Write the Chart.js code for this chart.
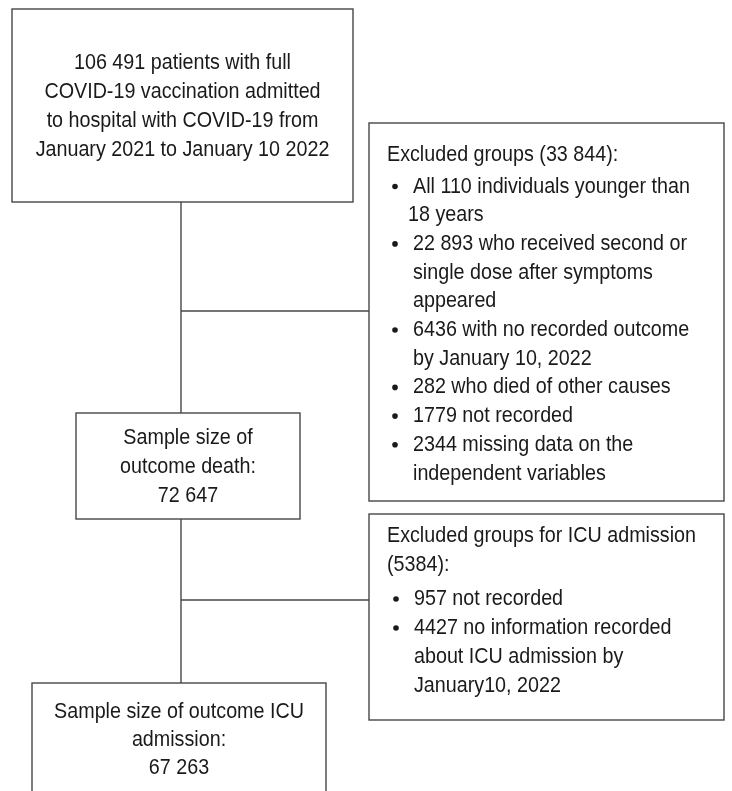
<!DOCTYPE html>
<html>
<head>
<meta charset="utf-8">
<script src="https://cdn.jsdelivr.net/npm/chart.js@4.4.1/dist/chart.umd.min.js"></script>
<style>
  html, body { margin: 0; padding: 0; background: #ffffff; }
  #wrap { width: 732px; height: 791px; }
</style>
</head>
<body>
<div id="wrap"><canvas id="c" width="732" height="791"></canvas></div>
<script>
// ---- data (counts and texts) ----
const cohortCounts = [106491, 72647, 67263];
const deathExclusionTotal = 33844;
const deathExclusionCounts = [110, 22893, 6436, 282, 1779, 2344];
const icuExclusionTotal = 5384;
const icuExclusionCounts = [957, 4427];

const fmt = n => String(n).replace(/\B(?=(\d{3})+(?!\d))/g, ' ');

const topBoxLines = [
  fmt(cohortCounts[0]) + ' patients with full',
  'COVID-19 vaccination admitted',
  'to hospital with COVID-19 from',
  'January 2021 to January 10 2022'
];
const deathBoxLines = ['Sample size of', 'outcome death:', fmt(cohortCounts[1])];
const icuBoxLines = ['Sample size of outcome ICU', 'admission:', fmt(cohortCounts[2])];

const excl1Heading = ['Excluded groups (' + fmt(deathExclusionTotal) + '):'];
const excl1Bullets = [
  ['All ' + deathExclusionCounts[0] + ' individuals younger than', '18 years'],
  [fmt(deathExclusionCounts[1]) + ' who received second or', 'single dose after symptoms', 'appeared'],
  [deathExclusionCounts[2] + ' with no recorded outcome', 'by January 10, 2022'],
  [deathExclusionCounts[3] + ' who died of other causes'],
  [deathExclusionCounts[4] + ' not recorded'],
  [deathExclusionCounts[5] + ' missing data on the', 'independent variables']
];
const excl2Heading = ['Excluded groups for ICU admission', '(' + icuExclusionTotal + '):'];
const excl2Bullets = [
  [icuExclusionCounts[0] + ' not recorded'],
  [icuExclusionCounts[1] + ' no information recorded', 'about ICU admission by', 'January10, 2022']
];

// ---- layout (data units = page pixels on the hidden linear scales) ----
const boxes = [
  { x0: 12, y0: 9, x1: 353, y1: 202, kind: 'center', lines: topBoxLines, y: 63, lh: 29 },
  { x0: 76, y0: 413, x1: 300, y1: 519, kind: 'center', lines: deathBoxLines, y: 438, lh: 29 },
  { x0: 32, y0: 683, x1: 326, y1: 800, kind: 'center', lines: icuBoxLines, y: 712, lh: 28 },
  { x0: 369, y0: 123, x1: 724, y1: 501, kind: 'list', heading: excl1Heading, bullets: excl1Bullets,
    y: 155, lh: 28.7, gap: 31.5, hx: 387, bx: 395, tx: 413, contX: [408] },
  { x0: 369, y0: 514, x1: 724, y1: 720, kind: 'list', heading: excl2Heading, bullets: excl2Bullets,
    y: 536, lh: 29, gap: 34, hx: 387, bx: 396, tx: 414, contX: [] }
];

const connectors = [
  [{x: 181, y: 202}, {x: 181, y: 413}],
  [{x: 181, y: 519}, {x: 181, y: 683}],
  [{x: 181, y: 311}, {x: 369, y: 311}],
  [{x: 181, y: 600}, {x: 369, y: 600}]
];

const FONT = '22px "Liberation Sans", Arial, sans-serif';
const REF_TEXT = 'Excluded groups for ICU admission';
const REF_WIDTH = 309; // width of REF_TEXT in the condensed face of the reference
const TEXT_COLOR = '#1a1a1a';
const LINE_COLOR = '#474747';

const flowPlugin = {
  id: 'flow',
  afterDatasetsDraw(chart) {
    const ctx = chart.ctx;
    const xs = chart.scales.x, ys = chart.scales.y;
    const px = v => xs.getPixelForValue(v);
    const py = v => ys.getPixelForValue(v);
    ctx.save();
    ctx.lineWidth = 1.4;
    ctx.strokeStyle = LINE_COLOR;
    boxes.forEach(b => {
      ctx.strokeRect(px(b.x0), py(b.y0), px(b.x1) - px(b.x0), py(b.y1) - py(b.y0));
    });
    ctx.fillStyle = TEXT_COLOR;
    ctx.font = FONT;
    ctx.textBaseline = 'middle';
    const squeeze = REF_WIDTH / ctx.measureText(REF_TEXT).width;
    const put = (t, x, y) => {
      ctx.save();
      ctx.translate(x, y);
      ctx.scale(squeeze, 1);
      ctx.fillText(t, 0, 0);
      ctx.restore();
    };
    boxes.forEach(b => {
      if (b.kind === 'center') {
        ctx.textAlign = 'center';
        const cx = (b.x0 + b.x1) / 2;
        b.lines.forEach((t, i) => put(t, px(cx), py(b.y + i * b.lh)));
      } else {
        ctx.textAlign = 'left';
        let y = b.y;
        b.heading.forEach((t, i) => {
          if (i > 0) y += b.lh;
          put(t, px(b.hx), py(y));
        });
        y += b.gap;
        b.bullets.forEach((lines, bi) => {
          if (bi > 0) y += b.lh;
          ctx.beginPath();
          ctx.arc(px(b.bx), py(y), 2.8, 0, Math.PI * 2);
          ctx.fill();
          lines.forEach((t, li) => {
            if (li > 0) y += b.lh;
            const tx = (li > 0 && bi === 0 && b.contX.length) ? b.contX[0] : b.tx;
            put(t, px(tx), py(y));
          });
        });
      }
    });
    ctx.restore();
  }
};

new Chart(document.getElementById('c'), {
  type: 'scatter',
  data: {
    datasets: connectors.map(seg => ({
      data: seg,
      showLine: true,
      borderColor: LINE_COLOR,
      borderWidth: 1.4,
      pointRadius: 0,
      fill: false
    }))
  },
  options: {
    responsive: false,
    animation: false,
    devicePixelRatio: 1,
    layout: { padding: 0 },
    plugins: { legend: { display: false }, tooltip: { enabled: false } },
    scales: {
      x: { type: 'linear', min: 0, max: 732, display: false },
      y: { type: 'linear', min: 0, max: 791, reverse: true, display: false }
    }
  },
  plugins: [flowPlugin]
});
</script>
</body>
</html>
